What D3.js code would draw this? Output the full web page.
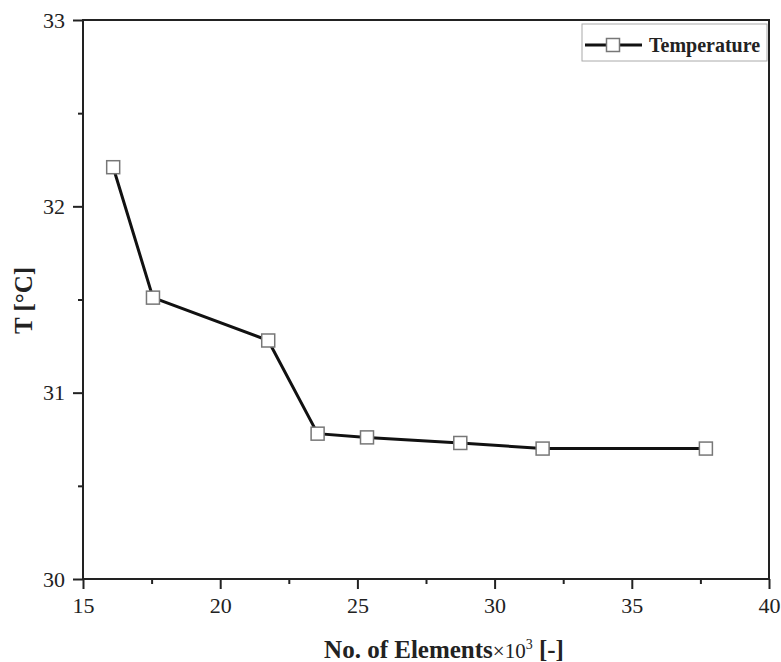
<!DOCTYPE html>
<html>
<head>
<meta charset="utf-8">
<script src="https://cdn.jsdelivr.net/npm/d3@7"></script>
<style>
  body { margin: 0; background: #fff; }
</style>
</head>
<body>
<div id="chart"></div>
<script>
const elements = [16.1, 17.55, 21.75, 23.55, 25.35, 28.75, 31.75, 37.7];
const temperature = [32.21, 31.51, 31.28, 30.78, 30.76, 30.73, 30.70, 30.70];
const xTicks = [15, 20, 25, 30, 35, 40];
const yTicks = [30, 31, 32, 33];

const serif = '"Liberation Serif", "Times New Roman", serif';
const width = 781, height = 662;
const margin = {top: 20, right: 12, bottom: 83, left: 83};

const svg = d3.select('#chart').append('svg')
    .attr('width', width)
    .attr('height', height)
    .attr('font-family', serif);

const x = d3.scaleLinear().domain([15, 40]).range([margin.left, width - margin.right]);
const y = d3.scaleLinear().domain([30, 33]).range([height - margin.bottom, margin.top]);

// frame
svg.append('rect')
    .attr('x', x(15)).attr('y', y(33))
    .attr('width', x(40) - x(15)).attr('height', y(30) - y(33))
    .attr('fill', 'none').attr('stroke', '#222').attr('stroke-width', 2);

function styleAxis(g) {
    g.attr('font-family', serif).attr('font-size', 22);
    g.select('.domain').remove();
    g.selectAll('line').attr('stroke', '#222').attr('stroke-width', 2);
    g.selectAll('text').attr('fill', '#222');
}

// x axis
svg.append('g')
    .attr('transform', `translate(0,${y(30)})`)
    .call(d3.axisBottom(x).tickValues(xTicks).tickSize(10).tickPadding(8).tickFormat(d3.format('d')))
    .call(styleAxis);

svg.append('g')
    .attr('transform', `translate(0,${y(30)})`)
    .call(d3.axisBottom(x).tickValues([17.5, 22.5, 27.5, 32.5, 37.5]).tickSize(5).tickFormat(''))
    .call(styleAxis);

// y axis
svg.append('g')
    .attr('transform', `translate(${x(15)},0)`)
    .call(d3.axisLeft(y).tickValues(yTicks).tickSize(10).tickPadding(8).tickFormat(d3.format('d')))
    .call(styleAxis);

svg.append('g')
    .attr('transform', `translate(${x(15)},0)`)
    .call(d3.axisLeft(y).tickValues([30.5, 31.5, 32.5]).tickSize(5).tickFormat(''))
    .call(styleAxis);

// axis titles
svg.append('text')
    .attr('transform', `translate(32,${(y(30) + y(33)) / 2 + 1}) rotate(-90)`)
    .attr('text-anchor', 'middle')
    .attr('fill', '#222')
    .attr('font-size', 25)
    .attr('font-weight', 'bold')
    .text('T [°C]');

const xt = svg.append('text')
    .attr('x', (x(15) + x(40)) / 2 + 18)
    .attr('y', 658)
    .attr('text-anchor', 'middle')
    .attr('fill', '#222')
    .attr('font-size', 25);
xt.append('tspan').attr('font-weight', 'bold').text('No. of Elements');
xt.append('tspan').attr('font-size', 21).text('×10');
xt.append('tspan').attr('font-size', 14).attr('dy', -9).text('3');
xt.append('tspan').attr('dy', 9).attr('font-weight', 'bold').text(' [-]');

// line
const data = elements.map((e, i) => ({e, t: temperature[i]}));
svg.append('path')
    .datum(data)
    .attr('fill', 'none')
    .attr('stroke', '#111')
    .attr('stroke-width', 3)
    .attr('d', d3.line().x(d => x(d.e)).y(d => y(d.t)));

const ms = 13;
svg.selectAll('.marker')
    .data(data)
    .join('rect')
    .attr('class', 'marker')
    .attr('x', d => x(d.e) - ms / 2)
    .attr('y', d => y(d.t) - ms / 2)
    .attr('width', ms).attr('height', ms)
    .attr('fill', '#fff')
    .attr('stroke', '#777')
    .attr('stroke-width', 1.5);

// legend
const lg = svg.append('g');
lg.append('rect')
    .attr('x', 582).attr('y', 24).attr('width', 185).attr('height', 37)
    .attr('fill', '#fff').attr('stroke', '#aaa').attr('stroke-width', 1);
lg.append('line')
    .attr('x1', 585).attr('x2', 642).attr('y1', 45).attr('y2', 45)
    .attr('stroke', '#111').attr('stroke-width', 3);
lg.append('rect')
    .attr('x', 613 - ms / 2).attr('y', 45 - ms / 2).attr('width', ms).attr('height', ms)
    .attr('fill', '#fff').attr('stroke', '#777').attr('stroke-width', 1.5);
lg.append('text')
    .attr('x', 649).attr('y', 52)
    .attr('fill', '#222')
    .attr('font-size', 20)
    .attr('font-weight', 'bold')
    .text('Temperature');
</script>
</body>
</html>
